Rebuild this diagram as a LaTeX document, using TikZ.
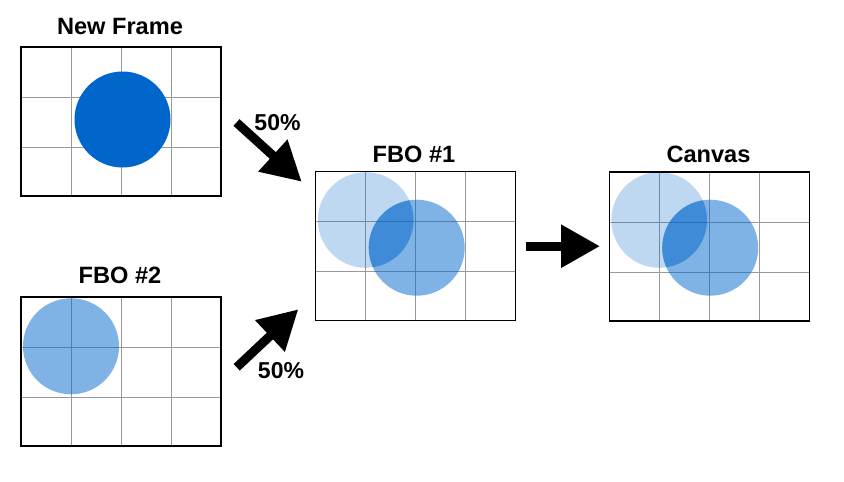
\documentclass[tikz,border=0pt]{standalone}
\usepackage{fontspec}
\setmainfont{Liberation Sans}
\usetikzlibrary{arrows.meta,calc}
\definecolor{fblue}{HTML}{0066CC}
\definecolor{gridgray}{HTML}{999999}
\begin{document}
\begin{tikzpicture}[x=1pt,y=1pt,
  frame/.style={draw=black, line width=1.4pt, minimum width=200pt, minimum height=149pt, inner sep=0pt, outer sep=0pt},
  title/.style={font=\bfseries\fontsize{23.6}{27}\selectfont, inner sep=0pt, anchor=base},
  pct/.style={font=\bfseries\fontsize{23}{26}\selectfont, inner sep=0pt, anchor=base},
  gridline/.style={draw=gridgray, line width=1pt},
  bigarrow/.style={line width=9pt, line cap=butt, -{Triangle[length=39pt,width=41pt]}},
  full/.style={fill=fblue},
  half/.style={fill=fblue, fill opacity=0.5},
  quarter/.style={fill=fblue, fill opacity=0.25},
]
\useasboundingbox (0,0) rectangle (844,-482);
\fill[white] (0,0) rectangle (844,-482);

% frames (empty first, borders drawn last)
\node[frame, draw=none] (nf) at (121,-121.5) {};
\node[frame, draw=none] (fbotwo) at (121,-371.5) {};
\node[frame, draw=none] (fboone) at (415.5,-246) {};
\node[frame, draw=none] (canvas) at (709.5,-246.5) {};

% grids
\foreach \f in {nf,fbotwo,fboone,canvas}{
  \foreach \d in {50,100,150}{
    \draw[gridline] ($(\f.north west)+(\d,0)$) -- ($(\f.south west)+(\d,0)$);
  }
  \foreach \d in {50,100}{
    \draw[gridline] ($(\f.north west)+(0,-\d)$) -- ($(\f.north east)+(0,-\d)$);
  }
}

% circles
\fill[full] (122.5,-119.5) circle (48);
\fill[half] (71,-346.3) circle (48);

\foreach \dx in {0,293.5}{
  \fill[quarter] ($(365.7,-220)+(\dx,0)$) circle (47.8);
  \fill[half] ($(416.7,-247.7)+(\dx,0)$) circle (48);
  \begin{scope}
    \clip ($(365.7,-220)+(\dx,0)$) circle (47.8);
    \fill[fblue, fill opacity=0.3333] ($(416.7,-247.7)+(\dx,0)$) circle (48);
  \end{scope}
}

% frame borders
\foreach \f in {nf,fbotwo,fboone,canvas}{
  \draw[black, line width=1.4pt] (\f.north west) rectangle (\f.south east);
}

% titles
\node[title] (tnf) at (120,-34.3) {New Frame};
\node[title] (tfbotwo) at (120,-283.5) {FBO \#2};
\node[title] (tfboone) at (414,-162.7) {FBO \#1};
\node[title] (tcanvas) at (708.5,-162.7) {Canvas};

% arrows
\coordinate (a1s) at (236.5,-122.5);
\coordinate (a1e) at (301.7,-181.7);
\coordinate (a2s) at (236.7,-367.3);
\coordinate (a2e) at (298.3,-309.3);
\coordinate (a3s) at (526,-246.2);
\coordinate (a3e) at (600,-246.2);
\draw[bigarrow] (a1s) -- (a1e);
\draw[bigarrow] (a2s) -- (a2e);
\draw[bigarrow] (a3s) -- (a3e);

\node[pct] (p1) at (277.5,-130) {50\%};
\node[pct] (p2) at (281,-378.3) {50\%};
\end{tikzpicture}
\end{document}
